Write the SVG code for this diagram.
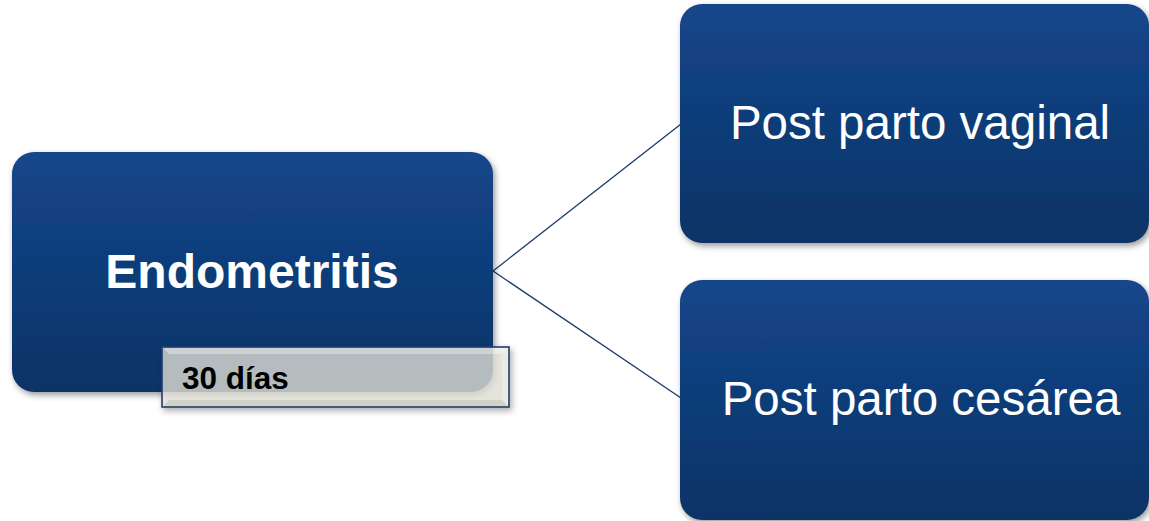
<svg xmlns="http://www.w3.org/2000/svg" width="1149" height="521" viewBox="0 0 1149 521">
  <defs>
    <linearGradient id="blueGrad" x1="0" y1="0" x2="0" y2="1">
      <stop offset="0" stop-color="#14468b"/>
      <stop offset="1" stop-color="#0b3366"/>
    </linearGradient>
    <filter id="shadow" x="-10%" y="-10%" width="125%" height="130%">
      <feDropShadow dx="2" dy="3" stdDeviation="3" flood-color="#000" flood-opacity="0.4"/>
    </filter>
  </defs>
  <style>
    .node { fill: url(#blueGrad); filter: url(#shadow); }
    .bold { font-family: "Liberation Sans", Arial, sans-serif; font-weight: bold; }
    .reg { font-family: "Liberation Sans", Arial, sans-serif; }
    .conn { stroke: #1b3a6b; stroke-width: 1.3; fill: none; }
  </style>
  <rect width="1149" height="521" fill="#ffffff"/>
  <g id="connectors">
    <line class="conn" x1="493" y1="271" x2="681" y2="124"/>
    <line class="conn" x1="493" y1="271" x2="681" y2="398"/>
  </g>
  <g id="node-endometritis">
    <rect class="node" x="12" y="152" width="481" height="240" rx="22" ry="22"/>
    <text class="bold" x="252" y="288" font-size="48" fill="#ffffff" text-anchor="middle">Endometritis</text>
  </g>
  <g id="node-vaginal">
    <rect class="node" x="680" y="4" width="469" height="239" rx="22" ry="22"/>
    <text class="reg" x="920" y="139" font-size="47.5" fill="#ffffff" text-anchor="middle">Post parto vaginal</text>
  </g>
  <g id="node-cesarea">
    <rect class="node" x="680" y="280" width="469" height="240" rx="22" ry="22"/>
    <text class="reg" x="921" y="415" font-size="47.5" fill="#ffffff" text-anchor="middle">Post parto cesárea</text>
  </g>
  <g id="label-30dias">
    <g filter="url(#shadow)">
      <rect x="162" y="347" width="347" height="60" fill="#e9e8de" fill-opacity="0.72" stroke="#1f3f6f" stroke-width="1.6"/>
    </g>
    <polygon points="163,348 508,348 502,354 169,354" fill="#ffffff" fill-opacity="0.35"/>
    <polygon points="508,348 508,406 502,400 502,354" fill="#ffffff" fill-opacity="0.25"/>
    <polygon points="163,406 508,406 502,400 169,400" fill="#8a8a80" fill-opacity="0.2"/>
    <text class="bold" x="182" y="389" font-size="31.5" fill="#000000">30 días</text>
  </g>
</svg>
